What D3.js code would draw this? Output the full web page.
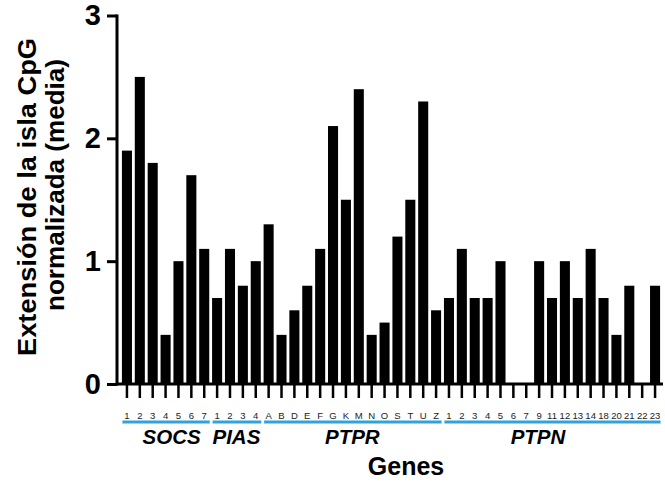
<!DOCTYPE html>
<html>
<head>
<meta charset="utf-8">
<script src="https://cdn.jsdelivr.net/npm/d3@7"></script>
<style>
  body { margin: 0; background: #fff; }
  svg { font-family: "Liberation Sans", Arial, sans-serif; }
</style>
</head>
<body>
<div id="chart"></div>
<script>
// data
var groupNames = ["SOCS", "PIAS", "PTPR", "PTPN"];

var socsLabels = ["1", "2", "3", "4", "5", "6", "7"];
var socsValues = [1.9, 2.5, 1.8, 0.4, 1.0, 1.7, 1.1];

var piasLabels = ["1", "2", "3", "4"];
var piasValues = [0.7, 1.1, 0.8, 1.0];

var ptprLabels = ["A", "B", "D", "E", "F", "G", "K", "M", "N", "O", "S", "T", "U", "Z"];
var ptprValues = [1.3, 0.4, 0.6, 0.8, 1.1, 2.1, 1.5, 2.4, 0.4, 0.5, 1.2, 1.5, 2.3, 0.6];

var ptpnLabels = ["1", "2", "3", "4", "5", "6", "7", "9", "11", "12", "13", "14", "18", "20", "21", "22", "23"];
var ptpnValues = [0.7, 1.1, 0.7, 0.7, 1.0, 0, 0, 1.0, 0.7, 1.0, 0.7, 1.1, 0.7, 0.4, 0.8, 0, 0.8];

var yTicks = [0, 1, 2, 3];

var width = 665, height = 485;

var svg = d3.select("#chart").append("svg")
    .attr("width", width)
    .attr("height", height);

// build one flat table from the group arrays
var groupLabels = [socsLabels, piasLabels, ptprLabels, ptpnLabels];
var groupValues = [socsValues, piasValues, ptprValues, ptpnValues];
var rows = [];
groupNames.forEach(function (g, gi) {
  groupLabels[gi].forEach(function (lab, i) {
    rows.push({ key: g + "-" + lab, group: g, label: lab, value: groupValues[gi][i] });
  });
});

var x = d3.scaleBand()
    .domain(rows.map(function (d) { return d.key; }))
    .range([120.5, 661.5])
    .paddingInner(0.22)
    .paddingOuter(0.11);

var y = d3.scaleLinear()
    .domain([0, 3])
    .range([384, 15.5]);

// bars
svg.selectAll("rect.bar")
  .data(rows)
  .enter().append("rect")
    .attr("class", "bar")
    .attr("x", function (d) { return x(d.key); })
    .attr("width", x.bandwidth())
    .attr("y", function (d) { return y(d.value); })
    .attr("height", function (d) { return y(0) - y(d.value); })
    .attr("fill", "#000");

// y axis
var yAxis = svg.append("g")
    .attr("transform", "translate(117,0)")
    .call(d3.axisLeft(y).tickValues(yTicks).tickFormat(d3.format("d")).tickSize(10).tickPadding(6));
yAxis.select(".domain").attr("stroke-width", 3).attr("d", "M0," + (y(3) - 1) + "V" + (y(0) + 1.5));
yAxis.selectAll(".tick line").attr("stroke-width", 3);
yAxis.selectAll(".tick text")
    .attr("font-size", 29)
    .attr("font-weight", "bold")
    .attr("fill", "#000")
    .attr("font-family", "Liberation Sans, Arial, sans-serif");

// x axis
var xAxis = svg.append("g")
    .attr("transform", "translate(0,384)")
    .call(d3.axisBottom(x).tickFormat(function (k) { return k.split("-")[1]; }).tickSize(14).tickPadding(14));
xAxis.select(".domain").attr("stroke-width", 3).attr("d", "M116,0H663");
xAxis.selectAll(".tick line").attr("stroke-width", 2.5);
xAxis.selectAll(".tick text")
    .attr("font-size", 9.5)
    .attr("fill", "#222")
    .attr("font-family", "Liberation Sans, Arial, sans-serif");

// group brackets and names
var labelShift = { SOCS: 6, PIAS: 0, PTPR: 0, PTPN: -14 };
groupNames.forEach(function (g, gi) {
  var labs = groupLabels[gi];
  var x0 = x(g + "-" + labs[0]);
  var x1 = x(g + "-" + labs[labs.length - 1]) + x.bandwidth();
  svg.append("line")
      .attr("x1", x0 + 0.5).attr("x2", x1 + 0.5)
      .attr("y1", 422).attr("y2", 422)
      .attr("stroke", "#2ea3dc")
      .attr("stroke-width", 3);
  svg.append("text")
      .attr("x", (x0 + x1) / 2 + labelShift[g])
      .attr("y", 444)
      .attr("text-anchor", "middle")
      .attr("font-size", 20.5)
      .attr("font-weight", "bold")
      .attr("font-style", "italic")
      .text(g);
});

// axis titles
svg.append("text")
    .attr("x", 406)
    .attr("y", 475)
    .attr("text-anchor", "middle")
    .attr("font-size", 25)
    .attr("font-weight", "bold")
    .text("Genes");

svg.append("text")
    .attr("transform", "translate(36,197) rotate(-90)")
    .attr("text-anchor", "middle")
    .attr("font-size", 26.5)
    .attr("font-weight", "bold")
    .attr("textLength", 318)
    .attr("lengthAdjust", "spacingAndGlyphs")
    .text("Extensión de la isla CpG");
svg.append("text")
    .attr("transform", "translate(64,185) rotate(-90)")
    .attr("text-anchor", "middle")
    .attr("font-size", 26.5)
    .attr("font-weight", "bold")
    .attr("textLength", 252)
    .attr("lengthAdjust", "spacingAndGlyphs")
    .text("normalizada (media)");
</script>
</body>
</html>
